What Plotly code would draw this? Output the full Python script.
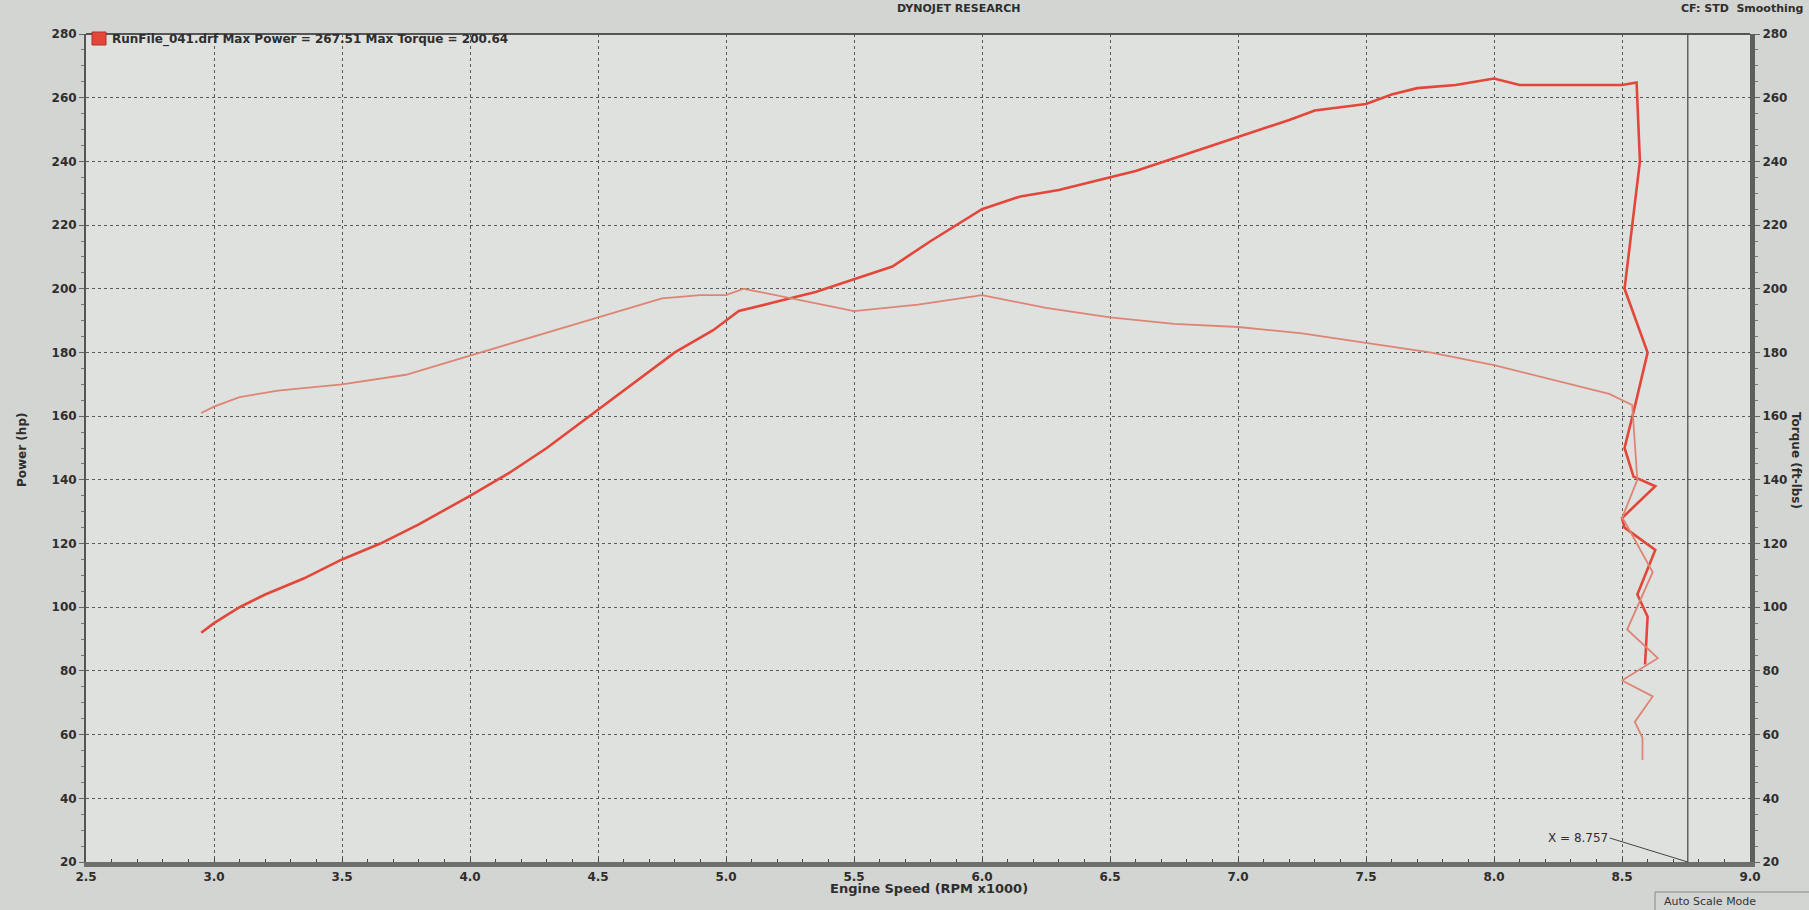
import plotly.graph_objects as go

# ---- data ----
power_rpm = [2.95, 3.0, 3.1, 3.2, 3.35, 3.5, 3.65, 3.8, 4.0, 4.15, 4.3, 4.5, 4.65, 4.8,
             4.95, 5.05, 5.2, 5.35, 5.5, 5.65, 5.8, 5.9, 6.0, 6.15, 6.3, 6.45, 6.6,
             6.75, 6.9, 7.05, 7.2, 7.3, 7.4, 7.5, 7.6, 7.7, 7.85, 8.0, 8.1, 8.25,
             8.4, 8.5, 8.557,
             8.57, 8.51, 8.60, 8.55, 8.51, 8.545, 8.63, 8.50, 8.51, 8.63, 8.56, 8.60, 8.59]
power_hp = [92, 95, 100, 104, 109, 115, 120, 126, 135, 142, 150, 162, 171, 180,
            187, 193, 196, 199, 203, 207, 215, 220, 225, 229, 231, 234, 237,
            241, 245, 249, 253, 256, 257, 258, 261, 263, 264, 266, 264, 264,
            264, 264, 264.8,
            240, 200, 180, 163, 150, 141, 138, 128, 125, 118, 104, 97, 82]

torque_rpm = [2.95, 3.0, 3.1, 3.25, 3.5, 3.75, 4.0, 4.25, 4.5, 4.75, 4.9, 5.0, 5.07,
              5.25, 5.5, 5.75, 6.0, 6.25, 6.5, 6.75, 7.0, 7.25, 7.5, 7.75, 8.0,
              8.25, 8.45, 8.54,
              8.56, 8.50, 8.51, 8.62, 8.58, 8.52, 8.64, 8.50, 8.62, 8.55, 8.58, 8.58]
torque_ftlb = [161, 163, 166, 168, 170, 173, 179, 185, 191, 197, 198, 198, 200,
               197, 193, 195, 198, 194, 191, 189, 188, 186, 183, 180, 176,
               171, 167, 163.5,
               140, 128, 127, 111, 104, 93, 84, 77, 72, 64, 59, 52]

x_ticks = [2.5, 3.0, 3.5, 4.0, 4.5, 5.0, 5.5, 6.0, 6.5, 7.0, 7.5, 8.0, 8.5, 9.0]
y_ticks = [20, 40, 60, 80, 100, 120, 140, 160, 180, 200, 220, 240, 260, 280]
cursor_x = 8.757

legend_text = "RunFile_041.drf Max Power = 267.51 Max Torque = 200.64"

# ---- layout geometry (pixels) ----
W, H = 1809, 910
L, R, T, B = 86, 1750, 34, 862
PW, PH = R - L, B - T


def fx(px):
    return (px - L) / PW


def fy(py):
    return (B - py) / PH


FONT = "DejaVu Sans"
TXT = "#2e2e2e"
GRID = "#5a5a5a"

fig = go.Figure()
fig.add_trace(go.Scatter(x=torque_rpm, y=torque_ftlb, mode="lines",
                         line=dict(color="#de8473", width=1.8), name="Torque",
                         yaxis="y2", showlegend=False))
fig.add_trace(go.Scatter(x=power_rpm, y=power_hp, mode="lines",
                         line=dict(color="#e2473a", width=2.6), name="Power",
                         showlegend=False))

axis_common = dict(
    range=[20, 280], tickvals=y_ticks, ticktext=[str(v) for v in y_ticks],
    tickfont=dict(family=FONT, size=12, color=TXT, weight="bold"),
    showgrid=True, gridcolor=GRID, griddash="dot", gridwidth=1,
    zeroline=False, ticks="outside", ticklen=5, tickcolor="#666",
    minor=dict(dtick=5, ticklen=3, tickcolor="#777", ticks="outside", showgrid=False),
)

fig.update_layout(
    width=W, height=H,
    margin=dict(l=L, r=W - R, t=T, b=H - B),
    paper_bgcolor="#d3d5d3",
    plot_bgcolor="#dfe1df",
    xaxis=dict(
        range=[2.5, 9.0], tickvals=x_ticks, ticktext=[f"{v:.1f}" for v in x_ticks],
        tickfont=dict(family=FONT, size=12, color=TXT, weight="bold"),
        showgrid=True, gridcolor=GRID, griddash="dot", gridwidth=1,
        zeroline=False, showline=True, linecolor="#6e6e6e", linewidth=5,
        ticks="inside", ticklen=4, tickcolor="#444",
        minor=dict(dtick=0.1, ticklen=3, tickcolor="#444", ticks="inside", showgrid=False),
    ),
    yaxis=dict(**axis_common, showline=True, linecolor="#555", linewidth=2, side="left"),
    yaxis2=dict(**axis_common, showline=True, linecolor="#5e5e5e", linewidth=5,
                side="right", overlaying="y"),
    showlegend=False,
)

# top border of plot + cursor line
fig.add_shape(type="line", xref="paper", yref="paper", x0=0, x1=1, y0=1, y1=1,
              line=dict(color="#555", width=2))
fig.add_shape(type="line", xref="x", yref="paper", x0=cursor_x, x1=cursor_x, y0=0, y1=1,
              line=dict(color="#4e4e4e", width=1.3))

# legend square
fig.add_shape(type="rect", xref="paper", yref="paper",
              x0=fx(92), x1=fx(106), y0=fy(45), y1=fy(32),
              fillcolor="#e2473a", line=dict(color="#a33", width=1))

annotations = [
    dict(text=legend_text, x=fx(110), y=fy(39), xanchor="left", yanchor="middle",
         font=dict(family=FONT, size=12, color=TXT, weight="bold")),
    dict(text="DYNOJET RESEARCH", x=fx(958), y=fy(8), xanchor="center", yanchor="middle",
         font=dict(family=FONT, size=11, color=TXT, weight="bold")),
    dict(text="CF: STD  Smoothing", x=fx(1806), y=fy(8), xanchor="right", yanchor="middle",
         font=dict(family=FONT, size=11, color=TXT, weight="bold")),
    dict(text="Power (hp)", x=fx(22), y=fy(450), xanchor="center", yanchor="middle",
         textangle=-90, font=dict(family=FONT, size=12, color=TXT, weight="bold")),
    dict(text="Torque (ft-lbs)", x=fx(1796), y=fy(460), xanchor="center", yanchor="middle",
         textangle=90, font=dict(family=FONT, size=12, color=TXT, weight="bold")),
    dict(text="Engine Speed (RPM x1000)", x=fx(929), y=fy(889), xanchor="center",
         yanchor="middle", font=dict(family=FONT, size=13, color=TXT, weight="bold")),
    dict(text="Auto Scale Mode", x=fx(1662), y=fy(901), xanchor="left", yanchor="middle",
         font=dict(family=FONT, size=11, color="#333")),
]
for a in annotations:
    a.update(xref="paper", yref="paper", showarrow=False)
    fig.add_annotation(**a)

fig.add_annotation(text="X = 8.757", xref="x", yref="y", x=cursor_x, y=20,
                   ax=-78, ay=-24, showarrow=True, arrowhead=0, arrowwidth=1,
                   arrowcolor="#444", xanchor="right", yanchor="middle",
                   font=dict(family=FONT, size=12, color=TXT))

# Auto Scale Mode box
fig.add_shape(type="line", xref="paper", yref="paper", x0=fx(1655), x1=fx(1809),
              y0=fy(892), y1=fy(892), line=dict(color="#888", width=1))
fig.add_shape(type="line", xref="paper", yref="paper", x0=fx(1655), x1=fx(1655),
              y0=fy(892), y1=fy(910), line=dict(color="#888", width=1))

fig.write_html(
    "out.html",
    config={"displayModeBar": False},
    post_script="document.body.style.margin='0';document.body.style.overflow='hidden';",
)
